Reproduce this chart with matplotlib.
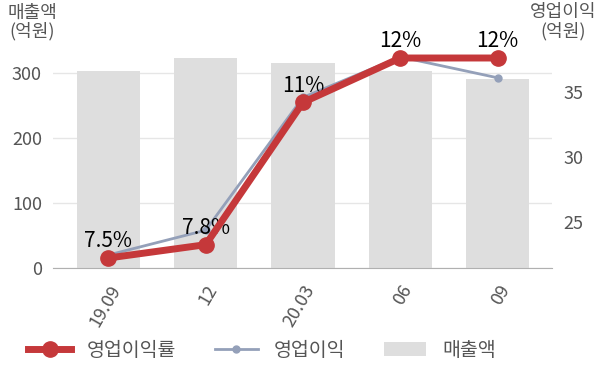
import matplotlib.pyplot as plt
from matplotlib.lines import Line2D
from matplotlib.patches import Patch

plt.rcParams['font.family'] = ['Noto Sans CJK KR', 'DejaVu Sans']

periods = ['19.09', '12', '20.03', '06', '09']
sales = [303, 323, 315, 303, 291]            # 매출액 (억원)
op_profit = [22.5, 24.4, 34.6, 37.7, 36.1]    # 영업이익 (억원)
op_margin = [7.5, 7.8, 11.0, 12.0, 12.0]      # 영업이익률 (%)
margin_labels = ['7.5%', '7.8%', '11%', '12%', '12%']

red = '#c5383a'
blue_gray = '#94a0b9'
bar_gray = '#dedede'
tick_gray = '#555555'

fig = plt.figure(figsize=(6, 3.83), dpi=100)
ax = fig.add_axes([53/600, 115/383, 499/600, 228/383])
x = range(len(periods))

ax.bar(x, sales, width=0.65, color=bar_gray, zorder=1)
ax.set_ylim(0, 351)
ax.set_yticks([0, 100, 200, 300])
ax.set_xlim(-0.57, 4.56)
ax.set_xticks(list(x))
ax.set_xticklabels(periods, rotation=60, ha='right', rotation_mode='anchor')
ax.grid(axis='y', color='#e6e6e6', linewidth=1, zorder=0)
ax.set_axisbelow(True)
for s in ['top', 'right', 'left']:
    ax.spines[s].set_visible(False)
ax.spines['bottom'].set_color('#b0b0b0')
ax.tick_params(axis='y', length=0, labelsize=13, colors=tick_gray, pad=8)
ax.tick_params(axis='x', length=0, labelsize=13, colors=tick_gray, pad=10)

# 영업이익 on right axis
ax2 = ax.twinx()
ax2.plot(x, op_profit, color=blue_gray, linewidth=2, marker='o', markersize=5, zorder=3)
ax2.set_ylim(21.5, 39.0)
ax2.set_yticks([25, 30, 35])
for s in ax2.spines.values():
    s.set_visible(False)
ax2.tick_params(axis='y', length=0, labelsize=13, colors=tick_gray, pad=8)

# 영업이익률 on a hidden axis
ax3 = ax.twinx()
ax3.plot(x, op_margin, color=red, linewidth=5, marker='o', markersize=11, zorder=4)
ax3.set_ylim(7.275, 12.405)
ax3.axis('off')
for xi, v, lab in zip(x, op_margin, margin_labels):
    ax3.annotate(lab, (xi, v), xytext=(0, 4), textcoords='offset points',
                 ha='center', va='bottom', fontsize=15, color='black')

fig.text(32/600, 1 - 22/383, '매출액\n(억원)', ha='center', va='center',
         fontsize=13, color=tick_gray, linespacing=1.05)
fig.text(563/600, 1 - 22/383, '영업이익\n(억원)', ha='center', va='center',
         fontsize=13, color=tick_gray, linespacing=1.05)

handles = [
    Line2D([0], [0], color=red, linewidth=5, marker='o', markersize=11),
    Line2D([0], [0], color=blue_gray, linewidth=2, marker='o', markersize=5),
    Patch(facecolor=bar_gray),
]
fig.legend(handles, ['영업이익률', '영업이익', '매출액'], loc='center',
           bbox_to_anchor=(262/600, 1 - 350/383), ncol=3, frameon=False,
           fontsize=14, handlelength=2.2, handletextpad=0.8, columnspacing=2.0,
           labelcolor=tick_gray)

fig.savefig('out.png', dpi=100)
